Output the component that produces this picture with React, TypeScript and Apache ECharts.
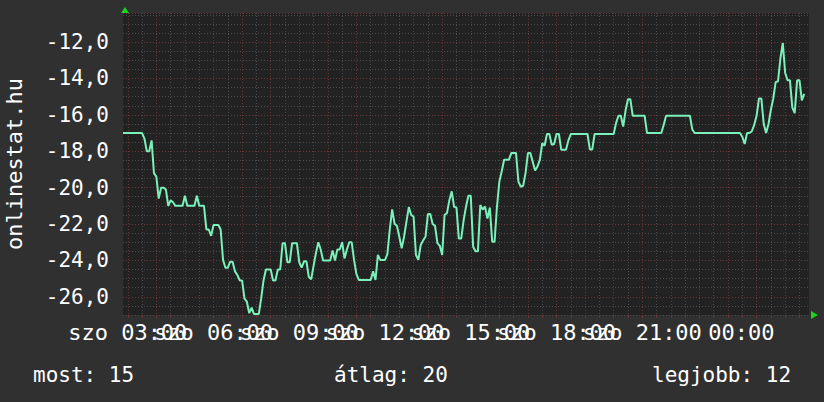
import React, { useEffect, useRef } from "react";
import * as echarts from "echarts";

// ---- data -------------------------------------------------------------
const startMinutes = 2 * 60 + 50; // 02:50, left edge of the plot
const stepMinutes = 5;
const stepCount = 288;
const firstDay = "szo";
const secondDay = "vas";

const sampleTimes: string[] = [
  "02:50", "03:30", "03:35", "03:40", "03:45", "03:50", "03:55", "04:00", "04:05", "04:10",
  "04:15", "04:20", "04:25", "04:30", "04:35", "04:40", "04:55", "05:00", "05:05", "05:20",
  "05:25", "05:30", "05:40", "05:45", "05:50", "05:55", "06:00", "06:10", "06:15", "06:20",
  "06:25", "06:30", "06:35", "06:40", "06:45", "06:50", "06:55", "07:00", "07:05", "07:10",
  "07:15", "07:20", "07:25", "07:35", "07:40", "07:45", "07:50", "08:00", "08:05", "08:10",
  "08:15", "08:20", "08:25", "08:30", "08:35", "08:40", "08:45", "08:55", "09:00", "09:05",
  "09:10", "09:15", "09:20", "09:25", "09:30", "09:35", "09:40", "09:45", "09:50", "10:05",
  "10:10", "10:15", "10:20", "10:25", "10:30", "10:35", "10:40", "10:45", "10:50", "10:55",
  "11:00", "11:05", "11:30", "11:35", "11:40", "11:45", "11:50", "12:00", "12:05", "12:10",
  "12:15", "12:20", "12:25", "12:30", "12:35", "12:40", "12:45", "12:50", "12:55", "13:00",
  "13:05", "13:10", "13:15", "13:20", "13:25", "13:30", "13:35", "13:40", "13:45", "13:50",
  "13:55", "14:00", "14:05", "14:10", "14:15", "14:20", "14:25", "14:30", "14:35", "14:40",
  "14:45", "14:50", "14:55", "15:00", "15:05", "15:10", "15:15", "15:20", "15:25", "15:30",
  "15:35", "15:40", "15:45", "15:50", "15:55", "16:00", "16:05", "16:10", "16:20", "16:25",
  "16:35", "16:40", "16:45", "16:50", "16:55", "17:00", "17:05", "17:10", "17:15", "17:20",
  "17:25", "17:30", "17:35", "17:40", "17:45", "17:50", "17:55", "18:00", "18:05", "18:10",
  "18:20", "18:25", "18:30", "19:05", "19:10", "19:15", "19:20", "20:00", "20:05", "20:10",
  "20:15", "20:20", "20:25", "20:30", "20:35", "20:40", "21:05", "21:10", "21:40", "21:45",
  "21:50", "22:40", "22:45", "22:50", "00:25", "00:30", "00:35", "00:40", "00:45", "00:50",
  "00:55", "01:00", "01:05", "01:10", "01:15", "01:20", "01:25", "01:30", "01:35", "01:40",
  "01:45", "01:50", "01:55", "02:00", "02:05", "02:10", "02:15", "02:20", "02:25", "02:30",
  "02:35", "02:40",
];

const sampleValues: number[] = [
  -17, -17, -17.3, -18, -18, -17.4, -19.2, -19.4, -20.6, -20.0,
  -20.0, -20.1, -21.0, -20.7, -20.8, -21.0, -21.0, -20.45, -21.0, -21.0,
  -20.45, -21.0, -21.0, -22.3, -22.3, -22.65, -22.05, -22.05, -22.3, -23.97,
  -24.4, -24.4, -24.07, -24.07, -24.6, -24.8, -25.1, -25.1, -26.1, -26.27,
  -26.9, -26.6, -26.95, -26.95, -26.1, -25.1, -24.5, -24.5, -25.1, -25.1,
  -24.5, -24.5, -23.05, -23.05, -24.1, -24.1, -23.05, -23.05, -24.1, -24.4,
  -24.05, -24.05, -24.9, -25.04, -24.3, -23.6, -23.0, -23.4, -24.0, -24.0,
  -23.45, -24.0, -23.4, -23.4, -23.0, -23.9, -23.4, -23.0, -23.0, -23.97,
  -24.75, -25.07, -25.07, -24.6, -25.07, -23.7, -23.97, -23.97, -23.65, -22.3,
  -21.2, -21.98, -22.1, -22.7, -23.33, -22.7, -21.87, -21.07, -21.5, -21.6,
  -23.7, -23.97, -23.15, -22.9, -22.7, -21.45, -21.45, -22.0, -22.1, -23.05,
  -23.2, -23.7, -21.5, -21.4, -20.7, -20.2, -21.05, -21.1, -22.8, -22.8,
  -21.8, -21.05, -20.45, -20.45, -23.25, -23.5, -23.5, -20.95, -21.2, -21.05,
  -21.7, -21.1, -22.97, -22.97, -21.05, -19.67, -19.1, -18.47, -18.47, -18.1,
  -18.1, -19.67, -19.95, -19.9, -19.2, -18.1, -18.1, -18.57, -19.06, -18.84,
  -18.47, -17.56, -17.7, -17.05, -17.05, -17.65, -17.6, -17.05, -17.05, -17.92,
  -17.92, -17.4, -17.05, -17.05, -17.9, -17.9, -17.05, -17.05, -16.45, -16.05,
  -16.05, -16.64, -15.75, -15.14, -15.14, -16.05, -16.05, -17.0, -17.0, -16.55,
  -16.05, -16.05, -16.8, -17.0, -17.0, -17.2, -17.6, -17.0, -17.0, -16.9,
  -16.55, -16.05, -15.1, -15.1, -16.5, -17.0, -16.5, -15.72, -15.1, -14.2,
  -14.15, -12.9, -12.05, -13.7, -14.1, -14.1, -15.6, -15.9, -14.1, -14.1,
  -15.2, -14.85,
];

const yMin = -27;
const yMax = -10.4;
const axisTitle = "onlinestat.hu";
const legendTexts = ["most: 15", "átlag: 20", "legjobb: 12"];

// ---- helpers ----------------------------------------------------------
const pad = (n: number) => (n < 10 ? "0" + n : "" + n);
const categories: string[] = [];
for (let i = 0; i <= stepCount; i++) {
  const m = startMinutes + i * stepMinutes;
  const day = m >= 1440 ? secondDay : firstDay;
  const mm = m % 1440;
  categories.push(`${day} ${pad(Math.floor(mm / 60))}:${pad(mm % 60)}`);
}
const timeToIndex = (t: string) => {
  const [h, m] = t.split(":").map(Number);
  return ((h * 60 + m - startMinutes + 1440) % 1440) / stepMinutes;
};
const minutesAt = (idx: number) => startMinutes + idx * stepMinutes;

const FONT = "DejaVu Sans Mono";
const BG = "#303030";
const CANVAS = "#222222";
const GRID_GRAY = "#4a4a4a";
const GRID_RED = "#6a3434";
const LINE = "#7af0bb";
const ARROW = "#19d419";

const labelFormatter = (value: string) =>
  value.endsWith("00:00") ? "{h|vas}00:00{h|x}" : value;

const makeLabelAxis = (phase: number) => ({
  type: "category",
  data: categories,
  boundaryGap: false,
  position: "bottom",
  offset: 0,
  axisLine: { show: false },
  axisTick: { show: false },
  splitLine: { show: false },
  axisLabel: {
    interval: (i: number) => {
      const m = minutesAt(i);
      return m % 180 === 0 && (m / 180) % 2 === phase;
    },
    showMinLabel: null,
    showMaxLabel: null,
    color: "#ffffff",
    fontFamily: FONT,
    fontSize: 22,
    margin: 6,
    formatter: labelFormatter,
    rich: { h: { color: "transparent", fontFamily: FONT, fontSize: 22 } },
  },
});

export default function App() {
  const ref = useRef<HTMLDivElement>(null);

  useEffect(() => {
    document.body.style.margin = "0";
    const chart = echarts.init(ref.current!, undefined, { renderer: "svg" });
    const data = sampleTimes.map((t, k) => [timeToIndex(t), sampleValues[k]]);

    const axisA: any = makeLabelAxis(1); // 03, 09, 15, 21
    axisA.axisTick = {
      show: true,
      interval: (i: number) => minutesAt(i) % 30 === 0,
      length: 3,
      lineStyle: { color: GRID_RED },
    };
    axisA.splitLine = {
      show: true,
      interval: (i: number) => minutesAt(i) % 30 === 0,
      lineStyle: { color: [GRID_RED, GRID_GRAY], type: [1, 2], width: 1 },
    };
    const axisB: any = makeLabelAxis(0); // 06, 12, 18, 00

    chart.setOption({
      animation: false,
      backgroundColor: BG,
      grid: {
        left: 123,
        top: 13,
        right: 15,
        bottom: 87,
        show: true,
        backgroundColor: CANVAS,
        borderWidth: 0,
        containLabel: false,
        outerBoundsMode: "none",
      },
      xAxis: [axisA, axisB],
      yAxis: {
        type: "value",
        min: yMin,
        max: yMax,
        interval: 0.5,
        name: axisTitle,
        nameLocation: "middle",
        nameRotate: 90,
        nameGap: 98,
        nameTextStyle: { color: "#ffffff", fontFamily: FONT, fontSize: 22 },
        axisLine: { show: false },
        axisTick: { show: false },
        axisLabel: {
          color: "#ffffff",
          fontFamily: FONT,
          fontSize: 21,
          margin: 14,
          formatter: (v: number) => {
            const r = Math.round(v);
            if (Math.abs(r - v) > 1e-6 || r % 2 !== 0) return "";
            return r.toFixed(1).replace(".", ",");
          },
        },
        splitLine: {
          show: true,
          lineStyle: {
            color: [GRID_GRAY, GRID_GRAY, GRID_RED, GRID_GRAY],
            type: [1, 2],
            width: 1,
          },
        },
      },
      series: [
        {
          type: "line",
          xAxisIndex: 0,
          data,
          showSymbol: false,
          symbol: "none",
          lineStyle: { color: LINE, width: 2 },
          clip: true,
          silent: true,
        },
      ],
      graphic: [
        {
          type: "polygon",
          shape: { points: [[121, 13], [129, 13], [125, 7]] },
          style: { fill: ARROW },
          silent: true,
        },
        {
          type: "polygon",
          shape: { points: [[811, 311], [811, 319], [818, 315]] },
          style: { fill: ARROW },
          silent: true,
        },
        {
          type: "text",
          left: 33,
          top: 364,
          style: { text: legendTexts[0], fill: "#ffffff", font: `21px '${FONT}'` },
        },
        {
          type: "text",
          left: 334,
          top: 364,
          style: { text: legendTexts[1], fill: "#ffffff", font: `21px '${FONT}'` },
        },
        {
          type: "text",
          left: 652,
          top: 364,
          style: { text: legendTexts[2], fill: "#ffffff", font: `21px '${FONT}'` },
        },
      ],
    });

    return () => chart.dispose();
  }, []);

  return (
    <div
      ref={ref}
      style={{ position: "absolute", left: 0, top: 0, width: 824, height: 402 }}
    />
  );
}
